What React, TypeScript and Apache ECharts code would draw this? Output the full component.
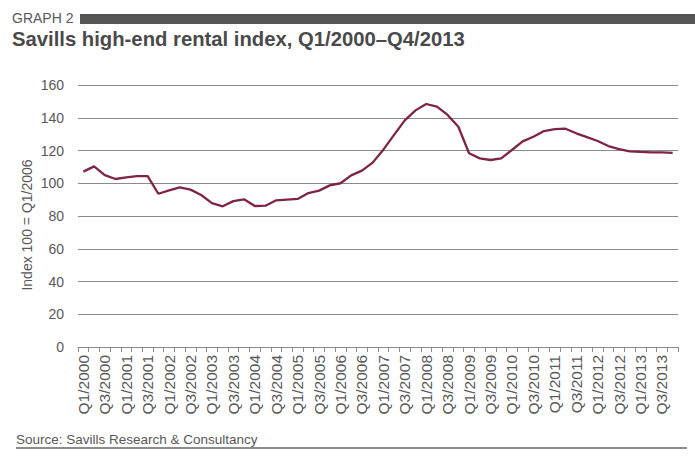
import React, { useEffect, useRef } from "react";
import * as echarts from "echarts";

const years = [2000, 2001, 2002, 2003, 2004, 2005, 2006, 2007, 2008, 2009, 2010, 2011, 2012, 2013];
const quarters = ["Q1", "Q2", "Q3", "Q4"];
const categories: string[] = [];
years.forEach((y) => quarters.forEach((q) => categories.push(`${q}/${y}`)));

const indexValues = [
  107.1, 110.3, 105.0, 102.6, 103.6, 104.4, 104.4, 93.6,
  95.7, 97.5, 96.1, 92.8, 87.9, 85.9, 89.1, 90.2,
  86.1, 86.3, 89.6, 90.0, 90.4, 94.0, 95.5, 98.7,
  100.0, 104.8, 107.7, 112.6, 120.5, 129.5, 138.4, 144.5,
  148.4, 146.8, 141.7, 134.5, 118.3, 115.2, 114.2, 115.2,
  120.3, 125.6, 128.4, 131.9, 133.1, 133.3, 130.5, 128.2,
  125.8, 122.7, 120.9, 119.5, 119.1, 118.9, 118.9, 118.6,
];

const yTicks = { min: 0, max: 160, interval: 20 };

const titleLabel = "GRAPH 2";
const titleText = "Savills high-end rental index, Q1/2000\u2013Q4/2013";
const yAxisName = "Index 100 = Q1/2006";
const sourceText = "Source: Savills Research & Consultancy";

const FONT = "'Liberation Sans', Arial, Helvetica, sans-serif";
const GREY = "#585858";

export default function App() {
  const ref = useRef<HTMLDivElement>(null);
  useEffect(() => {
    document.body.style.margin = "0";
    if (!ref.current) return;
    const chart = echarts.init(ref.current, undefined, { renderer: "svg" });
    chart.setOption({
      animation: false,
      backgroundColor: "#ffffff",
      textStyle: { fontFamily: FONT },
      grid: { left: 78, right: 17, top: 85, bottom: 113, containLabel: false },
      xAxis: {
        type: "category",
        data: categories,
        boundaryGap: true,
        axisLine: { show: true, lineStyle: { color: "#8a8a8a", width: 1.2 } },
        axisTick: { show: true, length: 5, lineStyle: { color: "#8a8a8a" }, interval: 0 },
        axisLabel: {
          interval: 1,
          rotate: 90,
          fontSize: 15.5,
          color: GREY,
          fontFamily: FONT,
          margin: 8,
        },
      },
      yAxis: {
        type: "value",
        min: yTicks.min,
        max: yTicks.max,
        interval: yTicks.interval,
        axisLine: { show: false },
        axisTick: { show: false },
        axisLabel: { fontSize: 14, color: GREY, fontFamily: FONT, margin: 14 },
        splitLine: { show: true, lineStyle: { color: "#8a8a8a", width: 1.2 } },
      },
      series: [
        {
          type: "line",
          data: indexValues,
          showSymbol: false,
          symbol: "none",
          lineStyle: { color: "#7d2448", width: 2.3 },
          itemStyle: { color: "#7d2448" },
        },
      ],
      graphic: [
        {
          type: "text",
          left: 12,
          top: 11,
          style: { text: titleLabel, fontSize: 14, fill: GREY, fontFamily: FONT },
        },
        {
          type: "rect",
          shape: { x: 80, y: 14, width: 615, height: 10 },
          style: { fill: "#555555" },
        },
        {
          type: "text",
          x: 12,
          y: 28,
          scaleX: 0.966,
          style: { text: titleText, fontSize: 21, fontWeight: "bold", fill: "#4a4a4a", fontFamily: FONT, textVerticalAlign: "top" },
        },
        {
          type: "text",
          x: 27,
          y: 225,
          rotation: Math.PI / 2,
          style: { text: yAxisName, fontSize: 14, fill: GREY, fontFamily: FONT, textAlign: "center", textVerticalAlign: "middle" },
        },
        {
          type: "text",
          left: 16,
          top: 432,
          style: { text: sourceText, fontSize: 13.5, fill: GREY, fontFamily: FONT },
        },
        {
          type: "line",
          shape: { x1: 16, y1: 448, x2: 687, y2: 448 },
          style: { stroke: "#666666", lineWidth: 1.5 },
        },
      ],
    });
    return () => chart.dispose();
  }, []);
  return <div ref={ref} style={{ width: 695, height: 460 }} />;
}
